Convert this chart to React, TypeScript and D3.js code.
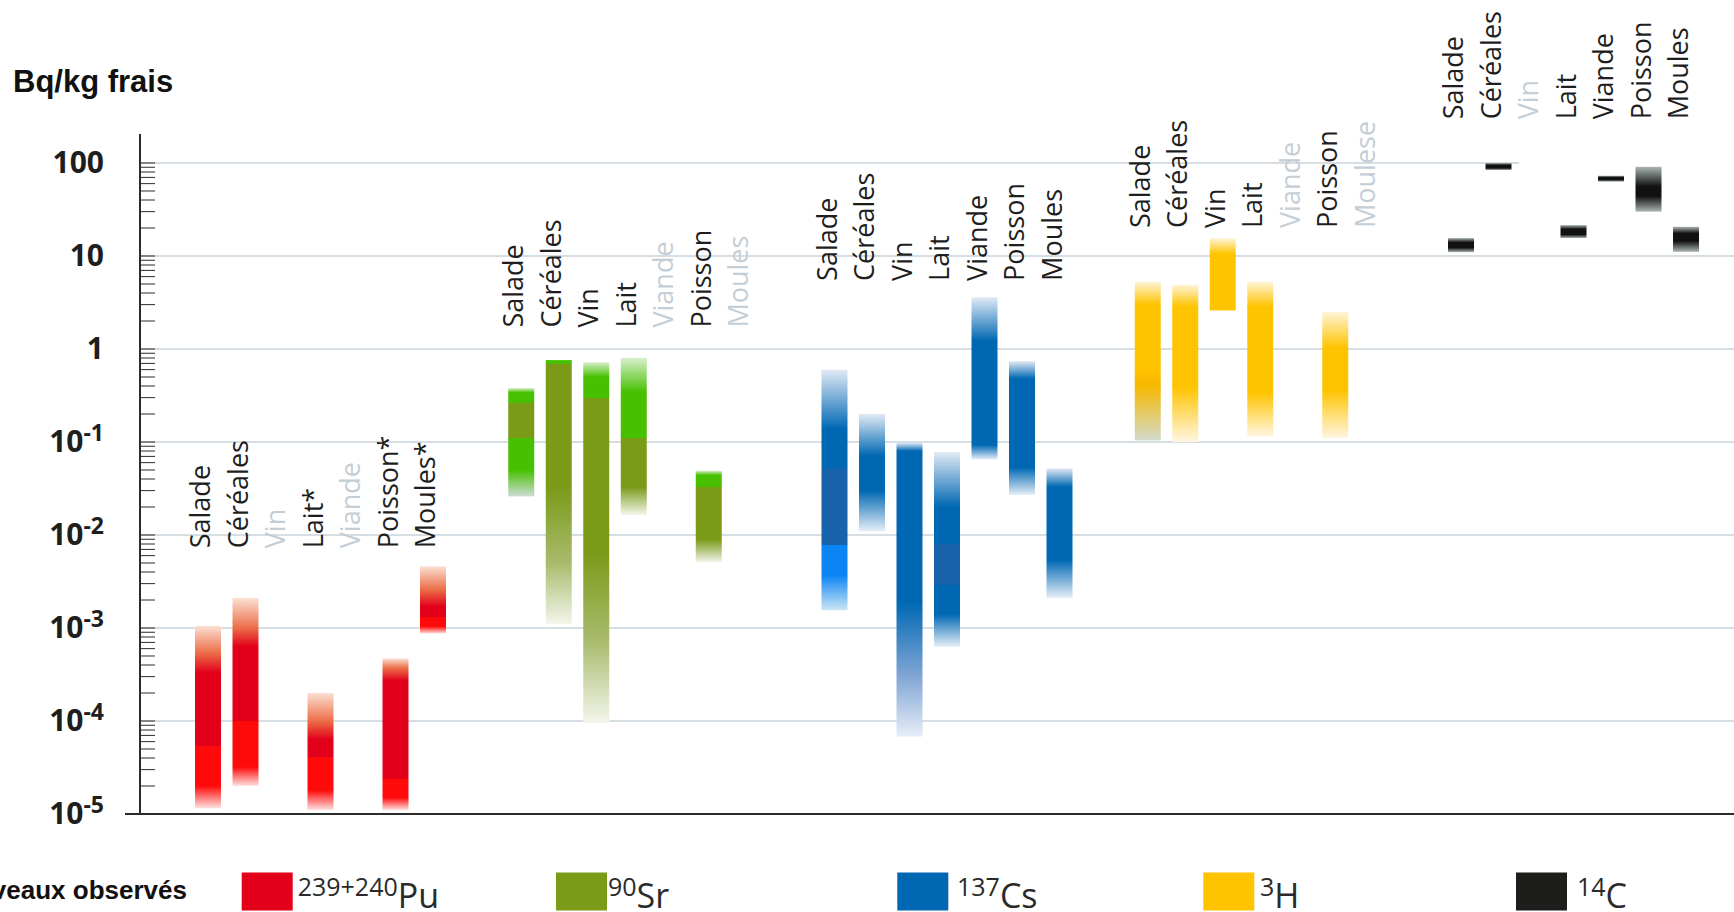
import React from "react";
import * as d3 from "d3";

// ---- data -------------------------------------------------------------
const FOODS = ["Salade", "Céréales", "Vin", "Lait", "Viande", "Poisson", "Moules"];
const ISOTOPES = ["Pu", "Sr", "Cs", "H", "C"];

// printed column labels per group (asterisks / typo kept as in source)
const puLabels = ["Salade", "Céréales", "Vin", "Lait*", "Viande", "Poisson*", "Moules*"];
const srLabels = ["Salade", "Céréales", "Vin", "Lait", "Viande", "Poisson", "Moules"];
const csLabels = ["Salade", "Céréales", "Vin", "Lait", "Viande", "Poisson", "Moules"];
const hLabels = ["Salade", "Céréales", "Vin", "Lait", "Viande", "Poisson", "Moulese"];
const cLabels = ["Salade", "Céréales", "Vin", "Lait", "Viande", "Poisson", "Moules"];

// value (Bq/kg) at which each group's labels start
const labelBase = [7.2e-3, 1.7, 5.4, 20, 295];

// each bar: gradient stops from top to bottom, [value, tone]
type Stop = [number, string];
const puBars: { food: string; stops: Stop[] }[] = [
  { food: "Salade", stops: [[1.05e-3, "hi"], [5.4e-4, "mid"], [3.3e-4, "m"], [5.4e-5, "m"], [5.4e-5, "b"], [2e-5, "b"], [1.15e-5, "lo"]] },
  { food: "Céréales", stops: [[2.1e-3, "hi"], [1e-3, "mid"], [6.3e-4, "m"], [1e-4, "m"], [1e-4, "b"], [3.2e-5, "b"], [2e-5, "lo"]] },
  { food: "Lait", stops: [[2e-4, "hi"], [1e-4, "mid"], [6.3e-5, "m"], [4.1e-5, "m"], [4.1e-5, "b"], [1.8e-5, "b"], [1.1e-5, "lo"]] },
  { food: "Poisson", stops: [[4.7e-4, "hi"], [3.7e-4, "mid"], [2.7e-4, "m"], [2.4e-5, "m"], [2.4e-5, "b"], [1.5e-5, "b"], [1.1e-5, "lo"]] },
  { food: "Moules", stops: [[4.6e-3, "hi"], [2.6e-3, "mid"], [1.7e-3, "m"], [1.3e-3, "m"], [1.3e-3, "b"], [1.04e-3, "b"], [8.7e-4, "lo"]] },
];
const srBars: { food: string; stops: Stop[] }[] = [
  { food: "Salade", stops: [[0.38, "hi"], [0.34, "b"], [0.26, "b"], [0.26, "m"], [0.11, "m"], [0.11, "b"], [0.05, "b"], [0.026, "g"]] },
  { food: "Céréales", stops: [[0.76, "b"], [0.69, "b"], [0.69, "m"], [0.033, "m"], [5e-3, "ml"], [1.1e-3, "wm"]] },
  { food: "Vin", stops: [[0.72, "hi"], [0.5, "b"], [0.3, "b"], [0.3, "m"], [6.5e-3, "m"], [7.4e-4, "ml"], [9.5e-5, "wm"]] },
  { food: "Lait", stops: [[0.8, "hi"], [0.34, "b"], [0.11, "b"], [0.11, "m"], [0.033, "m"], [0.0164, "wm"]] },
  { food: "Poisson", stops: [[0.049, "hi"], [0.044, "b"], [0.033, "b"], [0.033, "m"], [8.9e-3, "m"], [5.1e-3, "wm"]] },
];
const csBars: { food: string; stops: Stop[] }[] = [
  { food: "Salade", stops: [[0.6, "hi"], [0.138, "m"], [0.052, "m"], [0.052, "d"], [7.8e-3, "d"], [7.8e-3, "b"], [3.7e-3, "b"], [1.55e-3, "lc"]] },
  { food: "Céréales", stops: [[0.2, "hi"], [0.071, "m"], [0.03, "m"], [0.011, "lo"]] },
  { food: "Vin", stops: [[0.098, "hi"], [0.08, "m"], [1.9e-3, "m"], [2.8e-4, "ml"], [6.8e-5, "lo"]] },
  { food: "Lait", stops: [[0.078, "hi"], [0.02, "m"], [8e-3, "m"], [8e-3, "d"], [2.9e-3, "d"], [2.9e-3, "m"], [1.4e-3, "m"], [6.3e-4, "lo"]] },
  { food: "Viande", stops: [[3.6, "hi"], [1.22, "m"], [0.093, "m"], [0.065, "lo"]] },
  { food: "Poisson", stops: [[0.74, "hi"], [0.48, "m"], [0.053, "m"], [0.027, "lo"]] },
  { food: "Moules", stops: [[0.052, "hi"], [0.033, "m"], [5.4e-3, "m"], [2.1e-3, "lo"]] },
];
const hBars: { food: string; stops: Stop[] }[] = [
  { food: "Salade", stops: [[5.3, "hi"], [3.0, "m"], [0.65, "m"], [0.4, "d"], [0.104, "g"]] },
  { food: "Céréales", stops: [[4.9, "hi"], [2.85, "m"], [0.39, "m"], [0.1, "lo"]] },
  { food: "Vin", stops: [[15.5, "hi"], [10.5, "m"], [2.8, "m"], [2.6, "m"]] },
  { food: "Lait", stops: [[5.3, "hi"], [2.85, "m"], [0.34, "m"], [0.114, "lo"]] },
  { food: "Poisson", stops: [[2.5, "hi"], [1.03, "m"], [0.36, "m"], [0.11, "lo"]] },
];
const cBars: { food: string; stops: Stop[] }[] = [
  { food: "Salade", stops: [[15.6, "hi"], [14, "m"], [12.3, "m"], [11, "lo"]] },
  { food: "Céréales", stops: [[100, "hi"], [95, "m"], [88, "m"], [84, "lo"]] },
  { food: "Lait", stops: [[21.5, "hi"], [19.5, "m"], [17, "m"], [15.6, "lo"]] },
  { food: "Viande", stops: [[73, "hi"], [70, "m"], [66, "m"], [63, "lo"]] },
  { food: "Poisson", stops: [[91, "hi"], [56, "m"], [44, "m"], [30, "lo"]] },
  { food: "Moules", stops: [[20.6, "hi"], [17.5, "m"], [14.5, "m"], [11.1, "lo"]] },
];

const yTickExps = [2, 1, 0, -1, -2, -3, -4, -5];
const legendSup = ["239+240", "90", "137", "3", "14"];
const legendSym = ["Pu", "Sr", "Cs", "H", "C"];

// ---- styles / layout --------------------------------------------------
const PALETTE: Record<string, Record<string, string>> = {
  Pu: { hi: "#fbe0d2", mid: "#ec6e48", m: "#e2001a", b: "#ff0a0a", lo: "#ffe3e3" },
  Sr: { hi: "#d8efca", m: "#7b9a18", b: "#46c000", ml: "#a9bb6c", wm: "#f3f6ec", g: "#cfdcd8" },
  Cs: { hi: "#e2eaf5", m: "#0068b3", d: "#1762aa", b: "#0b84f4", ml: "#86a9d6", lo: "#e6eef8", lc: "#cde6f5" },
  H: { hi: "#fff4d8", m: "#ffc400", d: "#f6b800", g: "#d3dbcc", lo: "#fff6e2" },
  C: { hi: "#aab6b3", m: "#111111", lo: "#aab6b3" },
};
const SWATCH = ["#e2001a", "#7b9a18", "#0068b3", "#ffc400", "#1d1d1b"];
const LEGEND_X = [241.7, 556, 897.3, 1203.3, 1516];
const LEGEND_GAP = [5, 1, 8.7, 5.7, 10];

const W = 1734, H = 912;
const AXIS_X = 140;
const BAR_W = 26;
const GRID_TOP_END = 1519;
const FONT = "'Open Sans', sans-serif";
const BOLD = "'Liberation Sans', Arial, sans-serif";
const INK = "#1e1e1e";
const MUTED = "#c4ced6";
const GRID = "#c9d3db";

const groups = [
  { iso: "Pu", bars: puBars, labels: puLabels },
  { iso: "Sr", bars: srBars, labels: srLabels },
  { iso: "Cs", bars: csBars, labels: csLabels },
  { iso: "H", bars: hBars, labels: hLabels },
  { iso: "C", bars: cBars, labels: cLabels },
];

export default function App() {
  const y = d3.scaleLog().domain([1e-5, 100]).range([814, 163]);
  const xGroup = d3.scalePoint<string>().domain(ISOTOPES).range([208, 1461]);
  const xFood = d3.scalePoint<string>().domain(FOODS).range([0, 225]);
  const cx = (iso: string, food: string) => (xGroup(iso) ?? 0) + (xFood(food) ?? 0);

  const minorTicks = d3.range(-5, 2).flatMap((n) => d3.range(1, 10).map((k) => k * Math.pow(10, n))).concat([100]);
  const y0 = y(1e-5);

  return (
    <svg width={W} height={H} style={{ position: "fixed", left: 0, top: 0, background: "#fff" }}>
      <defs>
        {groups.map((g) =>
          g.bars.map((b) => {
            const top = y(b.stops[0][0]);
            const bot = y(b.stops[b.stops.length - 1][0]);
            return (
              <linearGradient key={g.iso + b.food} id={`g-${g.iso}-${FOODS.indexOf(b.food)}`}
                gradientUnits="userSpaceOnUse" x1={0} x2={0} y1={top} y2={bot}>
                {b.stops.map(([v, tone], i) => (
                  <stop key={i} offset={(y(v) - top) / (bot - top)} stopColor={PALETTE[g.iso][tone]} />
                ))}
              </linearGradient>
            );
          })
        )}
      </defs>

      {/* Title */}
      <text x={13} y={92} fontFamily={BOLD} fontWeight="bold" fontSize={31} fill="#111">
        Bq/kg frais
      </text>

      {/* Grid */}
      {yTickExps.filter((e) => e > -5).map((e) => (
        <line key={e} x1={AXIS_X} x2={e === 2 ? GRID_TOP_END : W} y1={y(Math.pow(10, e))} y2={y(Math.pow(10, e))}
          stroke={GRID} strokeWidth={1.6} />
      ))}

      {/* Y axis ticks */}
      {minorTicks.map((t, i) => (
        <line key={i} x1={AXIS_X} x2={AXIS_X + 15} y1={y(t)} y2={y(t)} stroke="#2b2b2b" strokeWidth={1} />
      ))}
      <line x1={AXIS_X} x2={AXIS_X} y1={134} y2={y0} stroke="#2b2b2b" strokeWidth={2} />
      <line x1={AXIS_X - 15} x2={W} y1={y0} y2={y0} stroke="#2b2b2b" strokeWidth={2} />

      {/* Y tick labels */}
      {yTickExps.map((e) => (
        <text key={e} x={104} y={y(Math.pow(10, e)) + 10} textAnchor="end" fontFamily={FONT}
          fontWeight={700} fontSize={30} fill={INK}>
          {e >= 0 ? String(Math.pow(10, e)) : (
            <>
              10<tspan fontSize={23} dy={-11}>{e}</tspan>
            </>
          )}
        </text>
      ))}

      {/* Bars */}
      {groups.map((g) =>
        g.bars.map((b) => {
          const top = y(b.stops[0][0]);
          const bot = y(b.stops[b.stops.length - 1][0]);
          return (
            <rect key={g.iso + b.food} x={cx(g.iso, b.food) - BAR_W / 2} y={top} width={BAR_W} height={bot - top}
              fill={`url(#g-${g.iso}-${FOODS.indexOf(b.food)})`} />
          );
        })
      )}

      {/* Column labels */}
      {groups.map((g, gi) =>
        FOODS.map((f, i) => {
          const has = g.bars.some((b) => b.food === f);
          const x = cx(g.iso, f) + 2;
          const yy = y(labelBase[gi]);
          return (
            <text key={g.iso + f} transform={`translate(${x},${yy}) rotate(-90)`} fontFamily={FONT}
              fontSize={27} fill={has ? INK : MUTED}>
              {g.labels[i]}
            </text>
          );
        })
      )}

      {/* Legend */}
      <text x={187} y={899} textAnchor="end" fontFamily={BOLD} fontWeight="bold" fontSize={26} fill="#111">
        Niveaux observés
      </text>
      {legendSym.map((s, i) => (
        <g key={s}>
          <rect x={LEGEND_X[i]} y={872.5} width={51} height={38} fill={SWATCH[i]} />
          <text x={LEGEND_X[i] + 51 + LEGEND_GAP[i]} y={908} fontFamily={FONT} fill="#2a2a2a">
            <tspan fontSize={25} dy={-12}>{legendSup[i]}</tspan>
            <tspan fontSize={34} dy={12}>{s}</tspan>
          </text>
        </g>
      ))}
    </svg>
  );
}
